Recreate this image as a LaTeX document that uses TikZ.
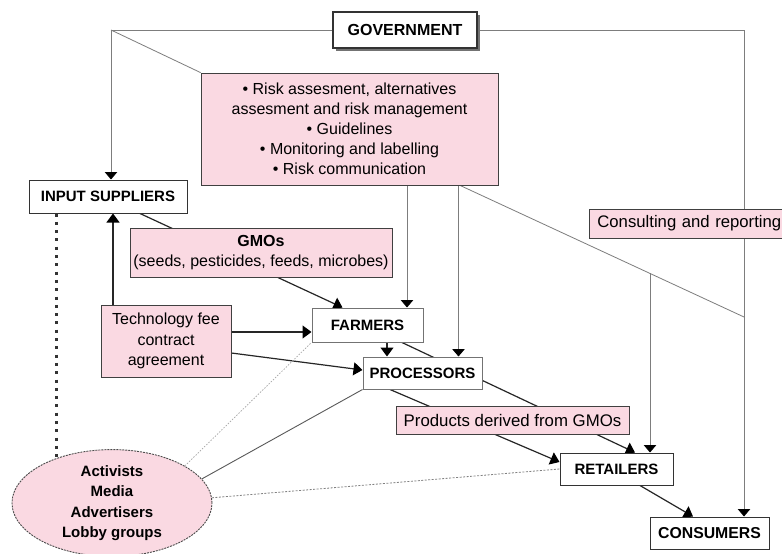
\documentclass[tikz,border=0pt]{standalone}
\usepackage{fontspec}
\setmainfont{Liberation Sans}
\usetikzlibrary{arrows.meta,shapes.geometric,backgrounds,shadows}
\definecolor{pinkfill}{RGB}{250,217,226}
\definecolor{lgrey}{RGB}{125,125,125}
\begin{document}
\begin{tikzpicture}[x=1pt,y=-1pt,
  lbl/.style={draw=black!80, line width=1pt, fill=white, inner sep=0pt, align=center,
    font=\fontsize{15}{18}\selectfont\bfseries},
  pinkbox/.style={draw=black!75, line width=0.8pt, fill=pinkfill, inner sep=0pt, align=center,
    font=\fontsize{16}{20}\selectfont},
  govline/.style={draw=lgrey, line width=0.8pt},
  govarrow/.style={govline, -{Triangle[width=12.5pt,length=7.5pt,color=black]}},
  flow/.style={draw=black!85, line width=1.2pt, -{Triangle[width=13pt,length=9pt,color=black]}},
]
\useasboundingbox (0,0) rectangle (782,554);

% nodes
\node[lbl, minimum width=144pt, minimum height=36pt, line width=1.2pt,
  drop shadow={shadow xshift=3pt, shadow yshift=-3pt, fill=black!55, opacity=1},
  font=\fontsize{16}{18}\selectfont\bfseries] (gov) at (405,30) {GOVERNMENT};
\node[pinkbox, minimum width=297pt, minimum height=112pt] (risk) at (349.5,129)
  {• Risk assesment, alternatives\\assesment and risk management\\• Guidelines\\• Monitoring and labelling\\• Risk communication};
\node[lbl, minimum width=158pt, minimum height=33pt] (input) at (108,196.5) {INPUT SUPPLIERS};
\node[pinkbox, anchor=west, text width=190pt, align=left, inner xsep=8pt, minimum height=29pt,
  font=\fontsize{16.7}{20}\selectfont] (consult) at (589,223.5) {Consulting and reporting};
\node[pinkbox, minimum width=262pt, minimum height=49pt] (gmo) at (261,252.5)
  {\bfseries GMOs\\(seeds, pesticides, feeds, microbes)};
\node[pinkbox, minimum width=130pt, minimum height=72pt, font=\fontsize{16}{20.5}\selectfont] (tech) at (166,341)
  {Technology fee\\contract\\agreement};
\node[lbl, minimum width=111pt, minimum height=34pt, draw=black!55] (farm) at (367.5,325) {FARMERS};
\node[lbl, minimum width=119pt, minimum height=32pt, draw=black!55] (proc) at (422.5,373) {PROCESSORS};
\node[pinkbox, minimum width=233pt, minimum height=28pt, font=\fontsize{16.8}{20}\selectfont] (prod) at (512.5,420)
  {Products derived from GMOs};
\node[lbl, minimum width=113pt, minimum height=32pt] (ret) at (616.5,469) {RETAILERS};
\node[lbl, minimum width=119pt, minimum height=32pt, font=\fontsize{15.8}{18}\selectfont\bfseries] (cons) at (709.5,533) {CONSUMERS};
\node[ellipse, draw=black!70, dash pattern=on 2pt off 1pt, line width=0.9pt, fill=pinkfill,
  minimum width=200pt, minimum height=100pt, inner sep=0pt, align=center,
  font=\fontsize{15}{20.5}\selectfont\bfseries] (ell) at (112,503)
  {Activists\\Media\\Advertisers\\Lobby groups};

\coordinate (c1) at (111,30);
\coordinate (c2) at (744,30);
\coordinate (d1) at (744,317);
\coordinate (d2) at (650,273.3);

\begin{scope}[on background layer]
  \fill[white] (0,0) rectangle (782,554);
  % government lines
  \draw[govarrow] (gov.west) -- (c1) -- (c1 |- input.north);
  \draw[govline] (c1) -- (risk.north west);
  \draw[govarrow] (gov.east) -- (c2) -- (c2 |- cons.north);
  \draw[govarrow] ([xshift=57.5pt]risk.south) -- ([xshift=57.5pt]risk.south |- farm.north);
  \draw[govarrow] ([xshift=109pt]risk.south) -- ([xshift=109pt]risk.south |- proc.north);
  \draw[govline] ([xshift=110.5pt]risk.south) -- (d1);
  \draw[govarrow] (d2) -- (d2 |- ret.north);
  % flows
  \draw[flow] ([xshift=32pt]input.south) -- ([xshift=31pt]farm.north west);
  \draw[flow] ([xshift=-53pt]tech.north) -- ([xshift=-53pt]tech.north |- input.south);
  \draw[flow] ([yshift=9pt]tech.east) -- ([yshift=9pt]tech.east -| farm.west);
  \draw[flow] ([yshift=-12pt]tech.east) -- ([yshift=3pt]proc.west);
  \draw[flow] ([xshift=19.5pt]farm.south) -- ([xshift=19.5pt]farm.south |- proc.north);
  \draw[flow] ([xshift=34.5pt]farm.south) -- ([xshift=18.5pt]ret.north);
  \draw[flow] ([xshift=-32.5pt]proc.south) -- ([yshift=7pt]ret.west);
  \draw[flow] ([xshift=23.5pt]ret.south) -- ([xshift=-16.5pt]cons.north);
  % lobby links
  \draw[black!80, line width=3pt, dash pattern=on 3pt off 5.3pt] ([xshift=-52pt]input.south) -- ([xshift=-52pt]input.south |- ell.143);
  \draw[black!35, line width=0.7pt, dash pattern=on 1.5pt off 1.5pt] (ell.27) -- (farm.south west);
  \draw[black!65, line width=0.9pt] (ell.15.5) -- (proc.south west);
  \draw[black!50, line width=0.8pt, dash pattern=on 2pt off 1.5pt] (ell.3) -- (ret.west);
\end{scope}
\end{tikzpicture}
\end{document}
